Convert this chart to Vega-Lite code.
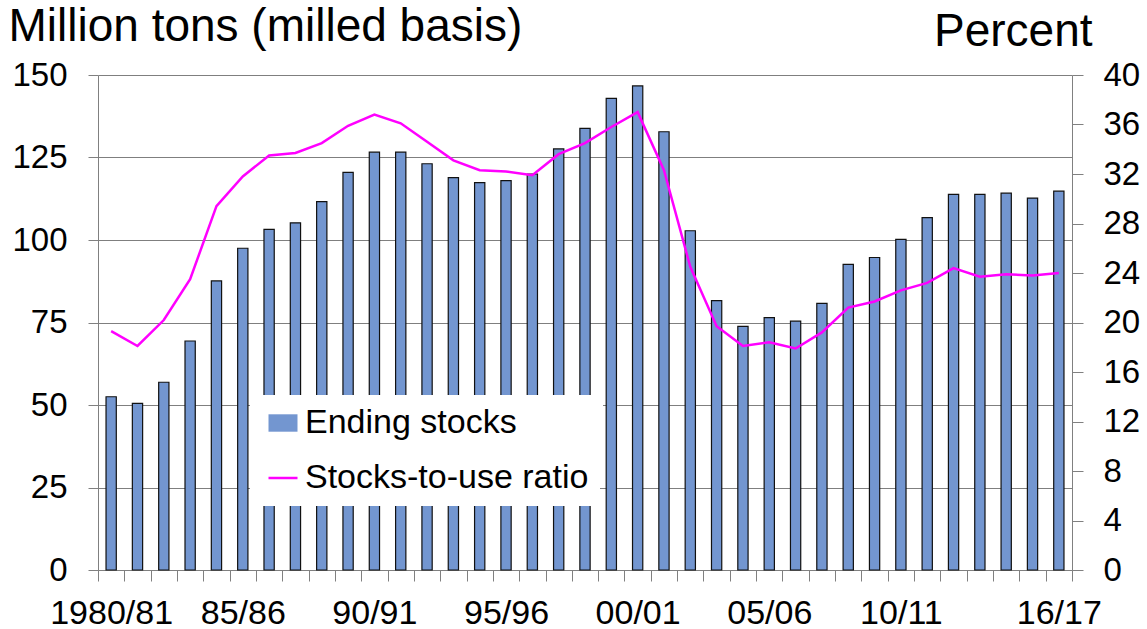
{
  "$schema": "https://vega.github.io/schema/vega-lite/v6.json",
  "width": 974,
  "height": 495,
  "autosize": {"type": "none"},
  "padding": {"left": 98, "top": 75, "right": 75, "bottom": 59},
  "background": "white",
  "config": {
    "font": "Liberation Sans",
    "view": {"stroke": null},
    "axis": {"labelColor": "#000", "titleColor": "#000", "domainColor": "#808080", "tickColor": "#808080", "gridColor": "#7f7f7f", "titleFontWeight": "normal"},
    "legend": {
      "orient": "none",
      "legendX": 152,
      "fillColor": "white",
      "padding": 11,
      "labelFontSize": 34,
      "labelLimit": 0,
      "labelColor": "#000",
      "labelOffset": 5,
      "symbolSize": 841,
      "symbolOffset": 5,
      "title": null
    }
  },
  "data": {
    "values": [
      {"year": "1980/81", "stocks": 52.5, "ratio": 19.3},
      {"year": "81/82", "stocks": 50.5, "ratio": 18.1},
      {"year": "82/83", "stocks": 56.9, "ratio": 20.2},
      {"year": "83/84", "stocks": 69.4, "ratio": 23.5},
      {"year": "84/85", "stocks": 87.6, "ratio": 29.4},
      {"year": "85/86", "stocks": 97.5, "ratio": 31.8},
      {"year": "86/87", "stocks": 103.2, "ratio": 33.5},
      {"year": "87/88", "stocks": 105.2, "ratio": 33.7},
      {"year": "88/89", "stocks": 111.6, "ratio": 34.5},
      {"year": "89/90", "stocks": 120.5, "ratio": 35.9},
      {"year": "90/91", "stocks": 126.6, "ratio": 36.8},
      {"year": "91/92", "stocks": 126.6, "ratio": 36.1},
      {"year": "92/93", "stocks": 123.1, "ratio": 34.6},
      {"year": "93/94", "stocks": 118.9, "ratio": 33.1},
      {"year": "94/95", "stocks": 117.4, "ratio": 32.3},
      {"year": "95/96", "stocks": 118.0, "ratio": 32.2},
      {"year": "96/97", "stocks": 120.0, "ratio": 31.9},
      {"year": "97/98", "stocks": 127.6, "ratio": 33.6},
      {"year": "98/99", "stocks": 133.8, "ratio": 34.5},
      {"year": "99/00", "stocks": 142.9, "ratio": 35.8},
      {"year": "00/01", "stocks": 146.7, "ratio": 37.0},
      {"year": "01/02", "stocks": 132.8, "ratio": 32.3},
      {"year": "02/03", "stocks": 102.8, "ratio": 24.5},
      {"year": "03/04", "stocks": 81.6, "ratio": 19.7},
      {"year": "04/05", "stocks": 73.8, "ratio": 18.1},
      {"year": "05/06", "stocks": 76.5, "ratio": 18.4},
      {"year": "06/07", "stocks": 75.4, "ratio": 17.9},
      {"year": "07/08", "stocks": 80.8, "ratio": 19.2},
      {"year": "08/09", "stocks": 92.6, "ratio": 21.2},
      {"year": "09/10", "stocks": 94.7, "ratio": 21.7},
      {"year": "10/11", "stocks": 100.2, "ratio": 22.6},
      {"year": "11/12", "stocks": 106.8, "ratio": 23.2},
      {"year": "12/13", "stocks": 113.8, "ratio": 24.4},
      {"year": "13/14", "stocks": 113.8, "ratio": 23.7},
      {"year": "14/15", "stocks": 114.2, "ratio": 23.9},
      {"year": "15/16", "stocks": 112.7, "ratio": 23.8},
      {"year": "16/17", "stocks": 114.8, "ratio": 24.0}
    ]
  },
  "encoding": {
    "x": {
      "field": "year",
      "type": "nominal",
      "sort": null,
      "scale": {"paddingInner": 0, "paddingOuter": 0},
      "axis": {
        "title": null,
        "labelAngle": 0,
        "labelFontSize": 34,
        "labelPadding": 15,
        "labelOverlap": false,
        "tickSize": 11,
        "tickBand": "extent",
        "domainColor": "#808080",
        "labelExpr": "indexof(['1980/81','85/86','90/91','95/96','00/01','05/06','10/11','16/17'], datum.value) >= 0 ? datum.value : ''"
      }
    }
  },
  "layer": [
    {
      "mark": {"type": "bar", "fill": "#7396d0", "stroke": "#111111", "strokeWidth": 1.2, "width": {"band": 0.39}},
      "encoding": {
        "y": {
          "field": "stocks",
          "type": "quantitative",
          "scale": {"domain": [0, 150], "nice": false},
          "axis": {
            "values": [0, 25, 50, 75, 100, 125, 150],
            "grid": true,
            "tickSize": 10,
            "labelPadding": 21,
            "labelFontSize": 33,
            "title": "Million tons (milled basis)",
            "titleFontSize": 46,
            "titleAngle": 0,
            "titleAlign": "left",
            "titleBaseline": "alphabetic",
            "titleX": -90,
            "titleY": -35
          }
        },
        "opacity": {
          "datum": "Ending stocks\u2800\u2800\u2800",
          "type": "nominal",
          "scale": {"range": [1]},
          "legend": {
            "title": null,
            "legendY": 320,
            "symbolType": "M-1,-0.6H1V0.6H-1Z",
            "symbolFillColor": "#7396d0",
            "symbolStrokeColor": "#111111",
            "symbolStrokeWidth": 1.2
          }
        }
      }
    },
    {
      "mark": {"type": "line", "stroke": "#ff00ff", "strokeWidth": 2.5},
      "encoding": {
        "y": {
          "field": "ratio",
          "type": "quantitative",
          "scale": {"domain": [0, 40], "nice": false},
          "axis": {
            "orient": "right",
            "values": [0, 4, 8, 12, 16, 20, 24, 28, 32, 36, 40],
            "grid": false,
            "tickSize": 11,
            "labelPadding": 20,
            "labelFontSize": 33,
            "title": "Percent",
            "titleFontSize": 46,
            "titleAngle": 0,
            "titleAlign": "right",
            "titleBaseline": "alphabetic",
            "titleX": 20,
            "titleY": -30
          }
        },
        "opacity": {
          "datum": "Stocks-to-use ratio",
          "type": "nominal",
          "scale": {"range": [1]},
          "legend": {
            "title": null,
            "legendY": 375,
            "symbolType": "stroke",
            "symbolStrokeColor": "#ff00ff",
            "symbolStrokeWidth": 2.5
          }
        }
      }
    }
  ],
  "resolve": {"scale": {"y": "independent", "opacity": "independent"}, "legend": {"opacity": "independent"}}
}
